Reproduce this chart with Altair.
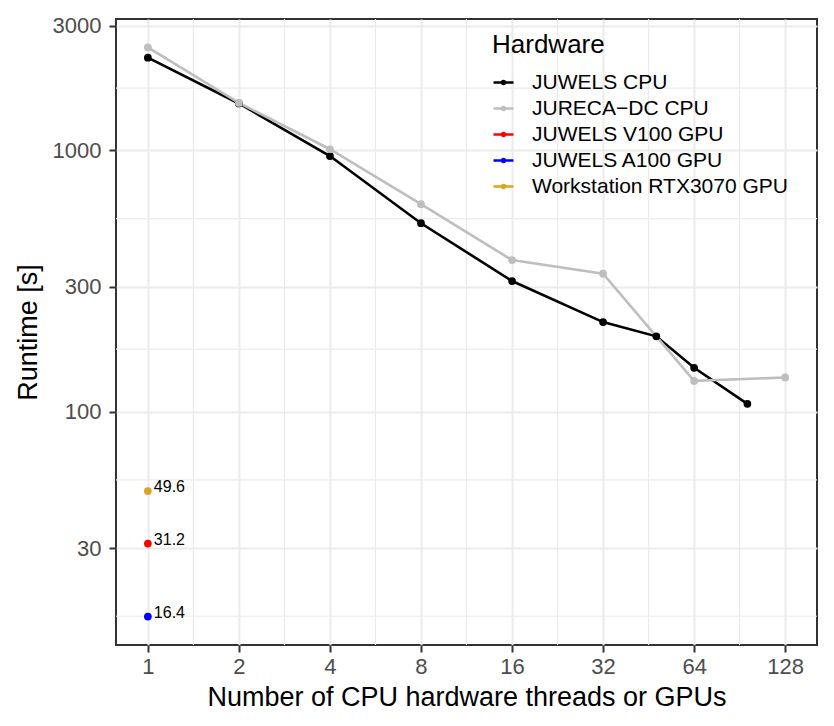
import altair as alt
import pandas as pd

# ---- data ----
hardware = ["JUWELS CPU", "JURECA\u2212DC CPU", "JUWELS V100 GPU", "JUWELS A100 GPU", "Workstation RTX3070 GPU"]
colors = ["#000000", "#BEBEBE", "#FF0000", "#0000FF", "#DAA520"]

juwels_n = [1, 2, 4, 8, 16, 32, 48, 64, 96]
juwels_t = [2265, 1512, 951, 526, 316, 220, 194, 147, 107]

jureca_n = [1, 2, 4, 8, 16, 32, 64, 128]
jureca_t = [2478, 1520, 1010, 622, 380, 337, 131, 135]

gpu_names = ["JUWELS V100 GPU", "JUWELS A100 GPU", "Workstation RTX3070 GPU"]
gpu_n = [1, 1, 1]
gpu_t = [31.2, 16.4, 49.6]

x_ticks = [1, 2, 4, 8, 16, 32, 64, 128]
y_ticks = [30, 100, 300, 1000, 3000]
x_minor = [1.414, 2.828, 5.657, 11.31, 22.63, 45.25, 90.51]
y_minor = [16.44, 54.77, 173.2, 547.7, 1732]

x_domain = [0.7846, 163.1]
y_domain = [12.76, 3185]

# ---- tables ----
rows = []
for n, t in zip(juwels_n, juwels_t):
    rows.append({"Hardware": hardware[0], "n": n, "t": t})
for n, t in zip(jureca_n, jureca_t):
    rows.append({"Hardware": hardware[1], "n": n, "t": t})
cpu = pd.DataFrame(rows)
gpu = pd.DataFrame({"Hardware": gpu_names, "n": gpu_n, "t": gpu_t,
                    "label": [str(v) for v in gpu_t]})
allpts = pd.concat([cpu, gpu[["Hardware", "n", "t"]]], ignore_index=True)

FONT = "Liberation Sans"
xscale = alt.Scale(type="log", base=2, domain=x_domain, nice=False)
yscale = alt.Scale(type="log", base=10, domain=y_domain, nice=False)
cscale = alt.Scale(domain=hardware, range=colors)

sym_path = ("M-1,0L1,0"
            "M-0.14,0A0.14,0.14,0,1,1,0.14,0A0.14,0.14,0,1,1,-0.14,0"
            "M-0.06,0A0.06,0.06,0,1,1,0.06,0A0.06,0.06,0,1,1,-0.06,0")

xaxis = alt.Axis(values=x_ticks, format="d", title="Number of CPU hardware threads or GPUs",
                 grid=True, gridColor="#EBEBEB", gridWidth=2, domain=False,
                 tickColor="#333333", tickWidth=2, tickSize=7,
                 labelFontSize=22, labelColor="#4D4D4D", labelPadding=4, labelFont=FONT,
                 labelOverlap=False, labelFlush=False,
                 titleFontSize=27, titleFontWeight="normal", titleColor="black",
                 titlePadding=7, titleFont=FONT)
yaxis = alt.Axis(values=y_ticks, format="d", title="Runtime [s]",
                 grid=True, gridColor="#EBEBEB", gridWidth=2, domain=False,
                 tickColor="#333333", tickWidth=2, tickSize=7,
                 labelFontSize=22, labelColor="#4D4D4D", labelPadding=8, labelFont=FONT,
                 labelOverlap=False, labelFlush=False,
                 titleFontSize=27, titleFontWeight="normal", titleColor="black",
                 titlePadding=10, titleFont=FONT)

legend = alt.Legend(title="Hardware", orient="none", legendX=376, legendY=13, padding=0,
                    titleFontSize=26, titleFontWeight="normal", titleColor="black",
                    titleFont=FONT, titlePadding=13,
                    labelFontSize=21, labelColor="black", labelFont=FONT, labelOffset=17,
                    labelLimit=0,
                    symbolType=sym_path, symbolSize=400, symbolStrokeWidth=2.5,
                    rowPadding=4)

X = alt.X("n:Q", scale=xscale, axis=xaxis)
Y = alt.Y("t:Q", scale=yscale, axis=yaxis)

minor_x = alt.Chart(pd.DataFrame({"n": x_minor})).mark_rule(
    color="#EBEBEB", strokeWidth=1.2).encode(x=X)
minor_y = alt.Chart(pd.DataFrame({"t": y_minor})).mark_rule(
    color="#EBEBEB", strokeWidth=1.2).encode(y=Y)

lines = alt.Chart(cpu).mark_line(strokeWidth=2.6).encode(
    x=X, y=Y,
    color=alt.Color("Hardware:N", scale=cscale, legend=legend),
    detail="Hardware:N",
)

points = alt.Chart(allpts).mark_circle(size=60, opacity=1).encode(
    x=X, y=Y,
    color=alt.Color("Hardware:N", scale=cscale, legend=None),
)

labels = alt.Chart(gpu).mark_text(align="left", baseline="alphabetic", dx=6, dy=1,
                                  fontSize=16, font=FONT, color="black").encode(
    x=X, y=Y,
    text="label:N",
)

chart = alt.layer(minor_x, minor_y, lines, points, labels).properties(
    width=701, height=626,
    autosize=alt.AutoSizeParams(type="none"),
    padding={"left": 108, "top": 11, "right": 9, "bottom": 73},
).configure(
    font=FONT
).configure_view(
    stroke="#333333", strokeWidth=2
)

chart.save("out.html", embed_options={"renderer": "svg", "actions": False})
